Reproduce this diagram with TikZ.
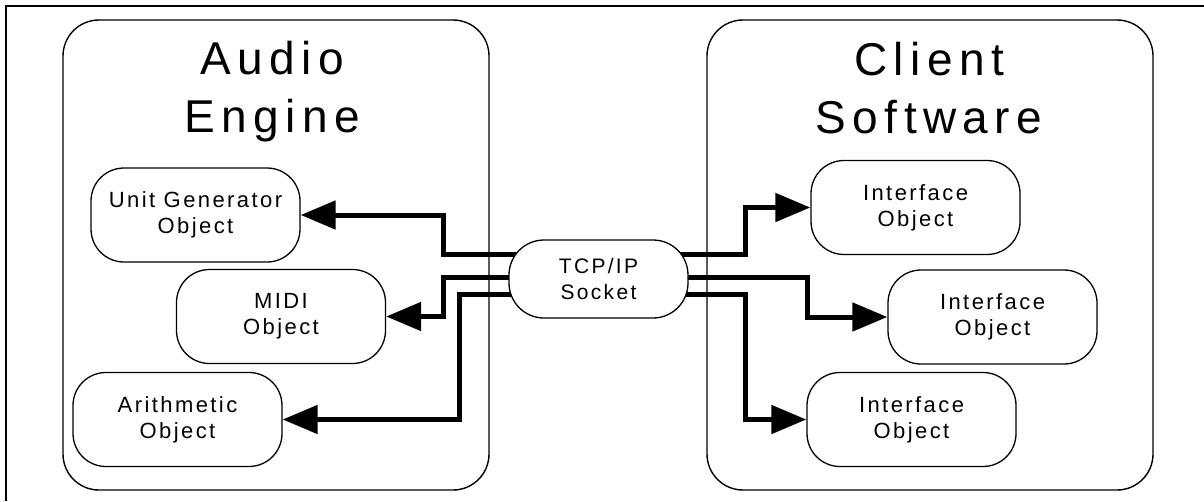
\documentclass[tikz,border=0pt]{standalone}
\usepackage{fontspec}
\setmainfont{Liberation Sans}
\newfontfamily\lsp{Liberation Sans}[LetterSpace=14]
\newfontfamily\lspsmall{Liberation Sans}[LetterSpace=11]
\usetikzlibrary{arrows.meta,calc}
\pgfdeclarelayer{background}
\pgfsetlayers{background,main}
\tikzset{
  bigbox/.style={draw, line width=1.4pt, rounded corners=36pt, minimum height=470pt},
  title/.style={align=center, inner sep=0pt, font=\lsp\fontsize{46}{58}\selectfont},
  smallbox/.style={draw, fill=white, line width=1.3pt, rounded corners=33pt, minimum width=209pt, minimum height=94pt, align=center, inner sep=0pt, font=\lspsmall\fontsize{22}{26}\selectfont},
  sockbox/.style={draw, fill=white, line width=1.3pt, rounded corners=35pt, minimum width=179pt, minimum height=78pt, align=center, inner sep=0pt, font=\lspsmall\fontsize{21}{26}\selectfont},
  wire/.style={line width=5pt, line join=miter, -{Triangle[length=35pt,width=28pt]}},
  frame/.style={line width=1.5pt}
}
\begin{document}
\begin{tikzpicture}[x=1pt,y=-1pt]
\useasboundingbox (0,0) rectangle (1204,501);
\coordinate (fa) at (1204,6);
\coordinate (fb) at (6,6);
\coordinate (fc) at (6,501);
\draw[frame] (fa) -- (fb) -- (fc);
% big boxes
\node[bigbox, minimum width=426pt] (engine) at (276,255) {};
\node[bigbox, minimum width=446pt] (client) at (930,255) {};
\node[title] (engt) at (272,92) {Audio\\Engine};
\node[title] (clit) at (929,88) {Client\\Software};
% small nodes
\node[smallbox] (ug) at (195.5,215) {Unit Generator\\Object};
\node[smallbox] (midi) at (281,316.5) {MIDI\\Object};
\node[smallbox] (arith) at (177.5,419.5) {Arithmetic\\Object};
\node[smallbox] (if1) at (915.5,207.5) {Interface\\Object};
\node[smallbox] (if2) at (992.5,317) {Interface\\Object};
\node[smallbox] (if3) at (911.5,419.5) {Interface\\Object};
\node[sockbox] (sock) at (598.5,279) {TCP/IP\\Socket};
% wire anchors
\coordinate (sa) at ([yshift=25pt]sock.center);
\coordinate (sb) at ([yshift=2pt]sock.center);
\coordinate (sc) at ([yshift=-15pt]sock.center);
\coordinate (ba) at (443,0);
\coordinate (bb) at (459,0);
\coordinate (bc) at (745,0);
\coordinate (bd) at (807,0);
\begin{pgfonlayer}{background}
\draw[wire] (sa) -- (sa -| ba) |- (ug.east);
\draw[wire] (sb) -- (sb -| ba) |- (midi.east);
\draw[wire] (sc) -- (sc -| bb) |- (arith.east);
\draw[wire] (sa) -- (sa -| bc) |- (if1.west);
\draw[wire] (sb) -- (sb -| bd) |- (if2.west);
\draw[wire] (sc) -- (sc -| bc) |- (if3.west);
\end{pgfonlayer}
\end{tikzpicture}
\end{document}
